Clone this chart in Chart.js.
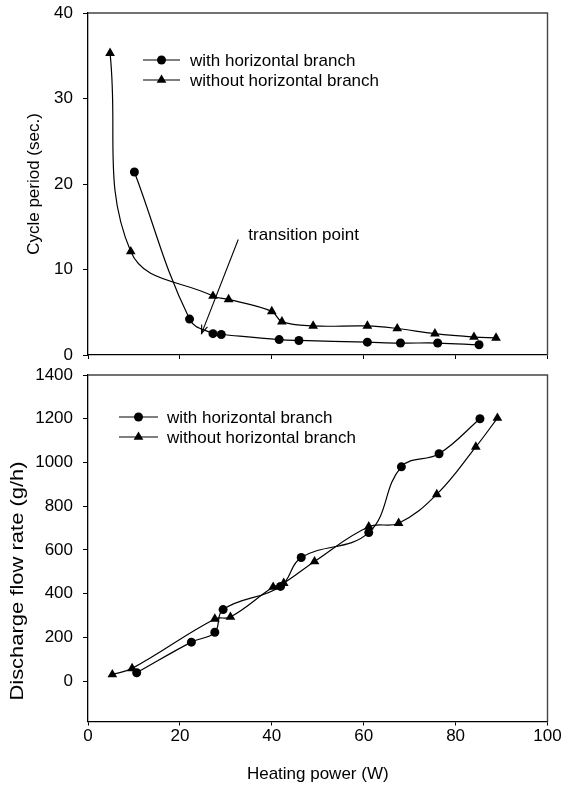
<!DOCTYPE html>
<html>
<head>
<meta charset="utf-8">
<script src="https://cdn.jsdelivr.net/npm/chart.js@4.4.1/dist/chart.umd.min.js"></script>
<style>
  html, body { margin:0; padding:0; background:#fff; }
  body { width:565px; height:785px; position:relative; overflow:hidden; }
  .box { position:absolute; left:0; width:565px; }
  #topBox { top:0; height:370px; }
  #botBox { top:360px; height:425px; }
</style>
</head>
<body>
<div class="box" id="topBox"><canvas id="topChart"></canvas></div>
<div class="box" id="botBox"><canvas id="botChart"></canvas></div>
<script>
// ---- Data ----
const seriesNames = ['with horizontal branch', 'without horizontal branch'];

// Top panel: cycle period (sec.)
const periodWithX    = [10.1, 22.1, 27.2, 29.0, 41.6, 45.9, 60.8, 68.0, 76.1, 85.1];
const periodWithY    = [21.4, 4.2, 2.5, 2.4, 1.8, 1.7, 1.5, 1.4, 1.4, 1.2];
const periodWithoutX = [4.8, 9.3, 27.2, 30.6, 40.0, 42.2, 49.0, 60.8, 67.3, 75.5, 84.0, 88.8];
const periodWithoutY = [35.3, 12.1, 6.9, 6.5, 5.1, 3.9, 3.4, 3.4, 3.1, 2.5, 2.1, 2.0];

// Bottom panel: discharge flow rate (g/h)
const flowWithX    = [10.6, 22.5, 27.6, 29.4, 41.9, 46.4, 61.1, 68.2, 76.4, 85.3];
const flowWithY    = [38, 178, 223, 327, 433, 565, 679, 980, 1040, 1200];
const flowWithoutX = [5.3, 9.6, 27.6, 31.0, 40.3, 42.6, 49.3, 61.1, 67.6, 75.9, 84.4, 89.1];
const flowWithoutY = [30, 58, 284, 293, 430, 448, 547, 706, 722, 854, 1071, 1203];

// Tick labels
const xTicks = [0, 20, 40, 60, 80, 100];
const periodTicks = [0, 10, 20, 30, 40];
const flowTicks = [0, 200, 400, 600, 800, 1000, 1200, 1400];

// Axis titles
const xTitle = 'Heating power (W)';
const periodTitle = 'Cycle period (sec.)';
const flowTitle = 'Discharge flow rate (g/h)';

// Annotation (data coordinates of the top panel)
const transitionText = 'transition point';
const arrowFrom = [32.7, 13.5];
const arrowTo = [24.7, 2.5];
const labelAt = [34.9, 14.0];

// ---- Helpers ----
const FONT = '"Liberation Sans", Arial, Helvetica, sans-serif';
const toPts = (xs, ys) => xs.map((x, i) => ({x: x, y: ys[i]}));

function ds(label, xs, ys, style) {
  return {
    label: label,
    data: toPts(xs, ys),
    borderColor: '#000',
    backgroundColor: '#000',
    borderWidth: 1.2,
    pointStyle: style,
    pointRadius: style === 'circle' ? 4.5 : 5.6,
    pointBorderWidth: 0,
    pointBackgroundColor: '#000',
    tension: 0.4,
    fill: false
  };
}

function drawMarker(ctx, style, x, y) {
  ctx.fillStyle = '#000';
  ctx.beginPath();
  if (style === 'circle') {
    ctx.arc(x, y, 4.5, 0, Math.PI * 2);
  } else {
    const r = 5.6;
    ctx.moveTo(x, y - r);
    ctx.lineTo(x + r * 0.866, y + r * 0.5);
    ctx.lineTo(x - r * 0.866, y + r * 0.5);
    ctx.closePath();
  }
  ctx.fill();
}

function framePlugin() {
  return {
    id: 'frame',
    afterDraw(chart) {
      const a = chart.chartArea, ctx = chart.ctx;
      ctx.save();
      ctx.strokeStyle = '#444';
      ctx.lineWidth = 1.4;
      ctx.beginPath();
      ctx.moveTo(a.left, a.top);
      ctx.lineTo(a.right, a.top);
      ctx.lineTo(a.right, a.bottom);
      ctx.stroke();
      ctx.restore();
    }
  };
}

function legendPlugin(lineX0, lineX1, textX, rowY0, rowGap) {
  return {
    id: 'customLegend',
    afterDraw(chart) {
      const a = chart.chartArea, ctx = chart.ctx;
      ctx.save();
      chart.data.datasets.forEach((d, i) => {
        const y = a.top + rowY0 + i * rowGap;
        ctx.strokeStyle = '#000';
        ctx.lineWidth = 1.2;
        ctx.beginPath();
        ctx.moveTo(a.left + lineX0, y);
        ctx.lineTo(a.left + lineX1, y);
        ctx.stroke();
        drawMarker(ctx, d.pointStyle, a.left + (lineX0 + lineX1) / 2, y);
        ctx.fillStyle = '#000';
        ctx.font = '17px ' + FONT;
        ctx.textBaseline = 'middle';
        ctx.textAlign = 'left';
        ctx.fillText(d.label, a.left + textX, y + 1);
      });
      ctx.restore();
    }
  };
}

const arrowPlugin = {
  id: 'arrow',
  afterDraw(chart) {
    const xs = chart.scales.x, ys = chart.scales.y, ctx = chart.ctx;
    const x0 = xs.getPixelForValue(arrowFrom[0]), y0 = ys.getPixelForValue(arrowFrom[1]);
    const x1 = xs.getPixelForValue(arrowTo[0]), y1 = ys.getPixelForValue(arrowTo[1]);
    ctx.save();
    ctx.strokeStyle = '#000';
    ctx.lineWidth = 1.1;
    ctx.beginPath();
    ctx.moveTo(x0, y0);
    ctx.lineTo(x1, y1);
    ctx.stroke();
    const ang = Math.atan2(y1 - y0, x1 - x0);
    const L = 9, w = 0.35;
    ctx.beginPath();
    ctx.moveTo(x1 - L * Math.cos(ang - w), y1 - L * Math.sin(ang - w));
    ctx.lineTo(x1, y1);
    ctx.lineTo(x1 - L * Math.cos(ang + w), y1 - L * Math.sin(ang + w));
    ctx.stroke();
    ctx.fillStyle = '#000';
    ctx.font = '17px ' + FONT;
    ctx.textAlign = 'left';
    ctx.textBaseline = 'middle';
    ctx.fillText(transitionText, xs.getPixelForValue(labelAt[0]), ys.getPixelForValue(labelAt[1]));
    ctx.restore();
  }
};

// bottom y title: drawn stretched along its length like the reference
const flowTitlePlugin = {
  id: 'flowTitle',
  afterDraw(chart) {
    const a = chart.chartArea, ctx = chart.ctx;
    ctx.save();
    ctx.translate(18, a.top + 206);
    ctx.rotate(-Math.PI / 2);
    ctx.scale(1.22, 1);
    ctx.fillStyle = '#000';
    ctx.font = '18px ' + FONT;
    ctx.textAlign = 'center';
    ctx.textBaseline = 'middle';
    ctx.fillText(flowTitle, 0, 0);
    ctx.restore();
  }
};

function zeroPad(s) {
  s.paddingTop = 0; s.paddingBottom = 0; s.paddingLeft = 0; s.paddingRight = 0;
}

function xScale(showLabels, height) {
  return {
    type: 'linear',
    min: 0, max: 100,
    afterBuildTicks: s => { s.ticks = xTicks.map(v => ({value: v})); },
    afterFit: s => { s.height = height; zeroPad(s); },
    grid: { drawOnChartArea: false, drawTicks: true, tickLength: 4, color: '#000', lineWidth: 1 },
    border: { display: true, color: '#000', width: 1.3 },
    ticks: { display: showLabels, color: '#000', padding: 1, maxRotation: 0, callback: v => String(v), font: { family: FONT, size: 17 } },
    title: showLabels ? { display: true, text: xTitle, color: '#000', padding: {top: 0, bottom: 0}, font: { family: FONT, size: 17 } } : { display: false }
  };
}

function yScale(min, max, ticks, title, titlePad) {
  return {
    type: 'linear',
    min: min, max: max,
    afterBuildTicks: s => { s.ticks = ticks.map(v => ({value: v})); },
    afterFit: s => { s.width = 88; zeroPad(s); },
    grid: { drawOnChartArea: false, drawTicks: true, tickLength: 5, color: '#000', lineWidth: 1 },
    border: { display: true, color: '#000', width: 1.3 },
    ticks: { color: '#000', padding: 10, callback: v => String(v), font: { family: FONT, size: 17 } },
    title: title ? { display: true, text: title, color: '#000', padding: {top: titlePad, bottom: 0}, font: { family: FONT, size: 17 } } : { display: false }
  };
}

const common = {
  responsive: true,
  maintainAspectRatio: false,
  animation: false,
  plugins: { legend: { display: false }, tooltip: { enabled: false } }
};

new Chart(document.getElementById('topChart'), {
  type: 'line',
  data: {
    datasets: [
      ds(seriesNames[0], periodWithX, periodWithY, 'circle'),
      ds(seriesNames[1], periodWithoutX, periodWithoutY, 'triangle')
    ]
  },
  options: Object.assign({}, common, {
    layout: { padding: { top: 13, right: 17.5, left: 0, bottom: 0 } },
    scales: {
      x: xScale(false, 15),
      y: yScale(0, 40, periodTicks, periodTitle, 24)
    }
  }),
  plugins: [framePlugin(), legendPlugin(55, 92, 102, 47, 20), arrowPlugin]
});

new Chart(document.getElementById('botChart'), {
  type: 'line',
  data: {
    datasets: [
      ds(seriesNames[0], flowWithX, flowWithY, 'circle'),
      ds(seriesNames[1], flowWithoutX, flowWithoutY, 'triangle')
    ]
  },
  options: Object.assign({}, common, {
    layout: { padding: { top: 15, right: 17.5, left: 0, bottom: 0 } },
    scales: {
      x: xScale(true, 63.5),
      y: yScale(-185, 1400, flowTicks, null, 0)
    }
  }),
  plugins: [framePlugin(), legendPlugin(31, 70, 79, 42, 20), flowTitlePlugin]
});
</script>
</body>
</html>
